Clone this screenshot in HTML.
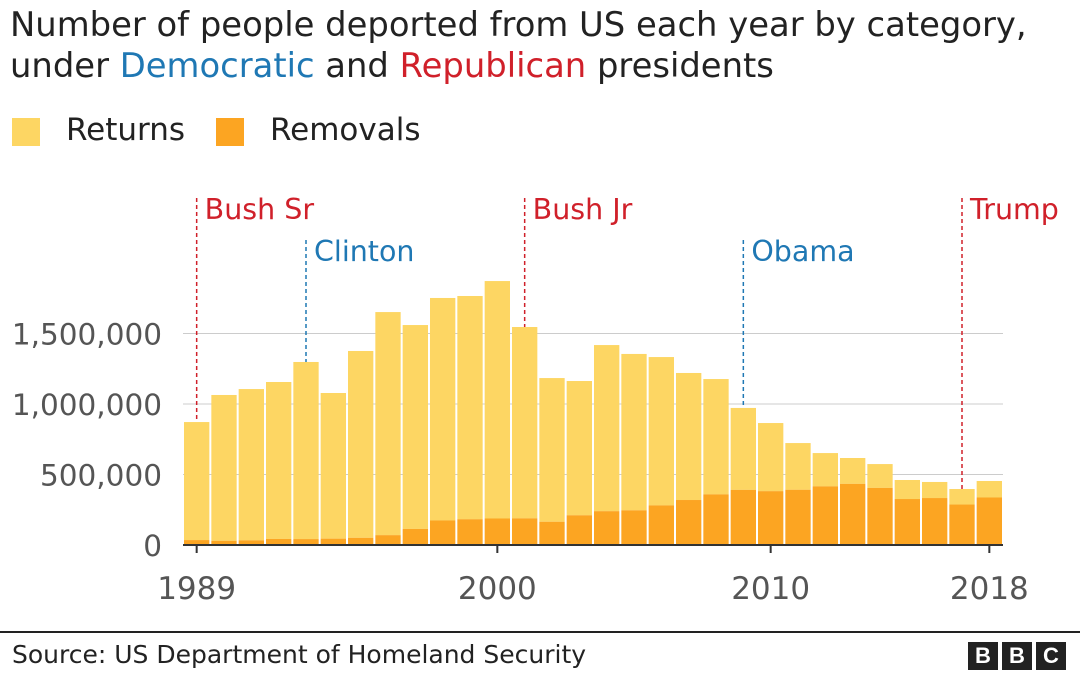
<!DOCTYPE html>
<html><head><meta charset="utf-8"><style>
body{margin:0;background:#fff;font-family:"DejaVu Sans","Liberation Sans",sans-serif;}
#wrap{position:relative;width:1080px;height:680px;overflow:hidden;}
.t{position:absolute;color:#222;white-space:nowrap;}
</style></head><body>
<div id="wrap">
<div class="t" style="left:10px;top:4px;font-size:33.8px;line-height:41px;color:#222;">Number of people deported from US each year by category,<br>under <span style="color:#1f78b4">Democratic</span> and <span style="color:#d0202a">Republican</span> presidents</div>
<div style="position:absolute;left:12px;top:118px;width:28px;height:28px;background:#fdd663"></div>
<div class="t" style="left:66px;top:112px;font-size:31px;">Returns</div>
<div style="position:absolute;left:216px;top:118px;width:28px;height:28px;background:#fca522"></div>
<div class="t" style="left:270px;top:112px;font-size:31px;">Removals</div>
<svg id="svg" width="1080" height="680" style="position:absolute;left:0;top:0"></svg>
<div style="position:absolute;left:0;top:631px;width:1080px;height:2px;background:#222"></div>
<div class="t" style="left:12px;top:640px;font-size:25px;">Source: US Department of Homeland Security</div>
<div style="position:absolute;left:968px;top:642px;display:flex;gap:4px;">
<div style="width:30px;height:28px;background:#222;color:#fff;font:bold 22px 'Liberation Sans';text-align:center;line-height:28px">B</div>
<div style="width:30px;height:28px;background:#222;color:#fff;font:bold 22px 'Liberation Sans';text-align:center;line-height:28px">B</div>
<div style="width:30px;height:28px;background:#222;color:#fff;font:bold 22px 'Liberation Sans';text-align:center;line-height:28px">C</div>
</div>
</div>
<script>
const years=[1989,1990,1991,1992,1993,1994,1995,1996,1997,1998,1999,2000,2001,2002,2003,2004,2005,2006,2007,2008,2009,2010,2011,2012,2013,2014,2015,2016,2017,2018];
const removals=[35000,30000,33000,43000,42000,45000,51000,70000,114000,174000,183000,188000,189000,165000,211000,240000,246000,281000,319000,359000,391000,382000,392000,416000,434000,405000,326000,333000,287000,337000];
const returns=[837000,1034000,1073000,1113000,1256000,1033000,1325000,1582000,1446000,1578000,1583000,1684000,1357000,1019000,952000,1178000,1109000,1052000,901000,818000,581000,483000,331000,236000,183000,169000,135000,114000,110000,117000];
const yTicks=[0,500000,1000000,1500000];
const yTickLabels=["0","500,000","1,000,000","1,500,000"];
const xTicks=[1989,2000,2010,2018];
const presidents=["Bush Sr","Clinton","Bush Jr","Obama","Trump"];
const presStart=[1989,1993,2001,2009,2017];
const presParty=["R","D","R","D","R"];
const svg=document.getElementById('svg');const NS='http://www.w3.org/2000/svg';
const FF='DejaVu Sans, Liberation Sans, sans-serif';
const x0=183,x1=1003,y0=545,n=years.length,step=(x1-x0)/n;
const X=yr=>x0+(yr-years[0])*step;const Y=v=>y0-v*(141/1000000);
function el(t,a,p){const e=document.createElementNS(NS,t);for(const k in a)e.setAttribute(k,a[k]);(p||svg).appendChild(e);return e;}
yTicks.forEach((v,i)=>{if(v>0){const g=el('line',{x1:x0,x2:x1,y1:Y(v),y2:Y(v),stroke:'#ccc','stroke-width':1});}
const t=el('text',{x:162,y:Y(v)+11,'text-anchor':'end','font-size':29.5,fill:'#555','font-family':FF});t.textContent=yTickLabels[i];
});
years.forEach((yr,i)=>{const bx=X(yr)+1,bw=step-2;
const r=el('rect',{x:bx,y:Y(removals[i]+returns[i]),width:bw,height:Y(removals[i])-Y(removals[i]+returns[i]),fill:'#fdd663'});

const m=el('rect',{x:bx,y:Y(removals[i]),width:bw,height:y0-Y(removals[i]),fill:'#fca522'});
});
const ax=el('line',{x1:x0,x2:x1,y1:y0,y2:y0,stroke:'#333','stroke-width':2});
xTicks.forEach(yr=>{const cx=X(yr)+step/2;el('line',{x1:cx,x2:cx,y1:y0,y2:y0+8,stroke:'#333','stroke-width':2});
const t=el('text',{x:cx,y:599,'text-anchor':'middle','font-size':31,fill:'#555','font-family':FF});t.textContent=yr;
});
presidents.forEach((p,i)=>{const cx=X(presStart[i])+step/2;const c=presParty[i]=='R'?'#d0202a':'#1f78b4';
const top=i%2==0?198:240;const tot=removals[presStart[i]-years[0]]+returns[presStart[i]-years[0]];
const l=el('line',{x1:cx,x2:cx,y1:top,y2:Y(tot),stroke:c,'stroke-width':1.5,'stroke-dasharray':'4,3'});

const t=el('text',{x:cx+8,y:top+21,'font-size':28.5,fill:c,'font-family':FF});t.textContent=p;
});
</script>
</body></html>
